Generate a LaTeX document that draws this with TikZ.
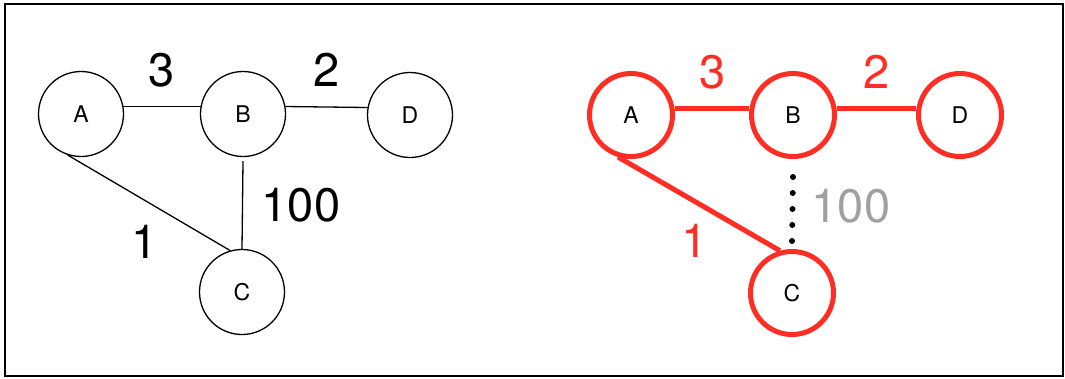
\documentclass[tikz,border=0pt]{standalone}
\usepackage{fontspec}
\setmainfont{TeX Gyre Heros}
\definecolor{myred}{RGB}{255,45,35}
\definecolor{mygray}{RGB}{160,160,160}
\tikzset{
  plainnode/.style={circle, draw=black, line width=1.3pt, minimum size=85pt, inner sep=0pt, font=\fontsize{23}{23}\selectfont},
  rednode/.style={circle, draw=myred, line width=5pt, minimum size=83pt, inner sep=0pt, font=\fontsize{23}{23}\selectfont},
  plainedge/.style={draw=black, line width=1.3pt},
  rededge/.style={draw=myred, line width=5pt},
  dotedge/.style={draw=black, line width=6pt, line cap=round, dash pattern=on 0pt off 16pt},
  weight/.style={inner sep=0pt, font=\fontsize{47}{47}\selectfont}
}
\begin{document}
\begin{tikzpicture}[x=1pt, y=-1pt]
\useasboundingbox (0,0) rectangle (1065,378);
\draw[line width=2pt] (5,4) rectangle (1063,376);
% left graph
\node[plainnode] (A1) at (81,114) {A};
\node[plainnode] (B1) at (243,114) {B};
\node[plainnode] (D1) at (410,115) {D};
\node[plainnode] (C1) at (242,292) {C};
\draw[plainedge] (A1.10) -- (B1.170);
\draw[plainedge] (B1.10) -- (D1.170);
\draw[plainedge] (A1.252) -- (C1.106);
\draw[plainedge] ([yshift=-4pt]B1.south) -- (C1.north);
\node[weight] (w1AB) at (162,70) {3};
\node[weight] (w1BD) at (327,70) {2};
\node[weight] (w1BC) at (301,205) {100};
\node[weight] (w1AC) at (145,242) {1};
% right graph
\node[rednode] (A2) at (631,115) {A};
\node[rednode] (B2) at (793,115) {B};
\node[rednode] (D2) at (960,115) {D};
\node[rednode] (C2) at (792,293) {C};
\draw[rededge] (A2.8) -- (B2.172);
\draw[rededge] (B2.8) -- (D2.172);
\draw[rededge] (A2.253) -- (C2.106);
\draw[dotedge] ([yshift=-18pt]B2.south) -- ([yshift=7.7pt]C2.north);
\node[weight, text=myred] (w2AB) at (712.5,72) {3};
\node[weight, text=myred] (w2BD) at (877,72) {2};
\node[weight, text=mygray] (w2BC) at (851,206) {100};
\node[weight, text=myred] (w2AC) at (695,241) {1};
\end{tikzpicture}
\end{document}
